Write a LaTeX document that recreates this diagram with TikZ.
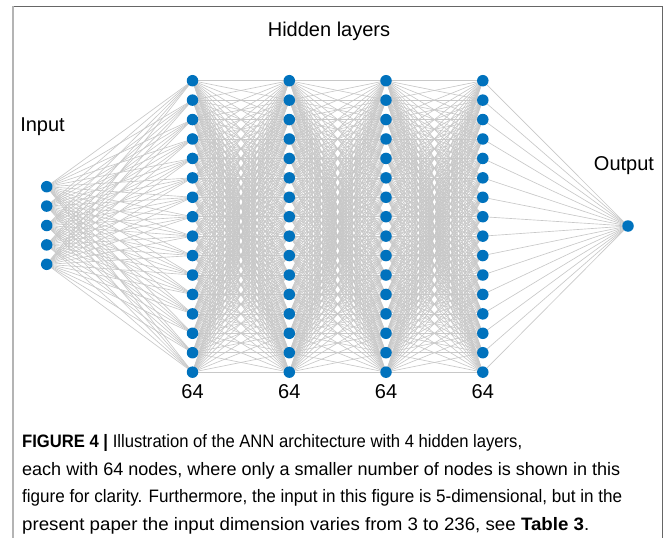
\documentclass[tikz,border=0pt]{standalone}
\usepackage{fontspec}
\setmainfont{Liberation Sans}
\usepackage{graphicx}
\pgfdeclarelayer{bg}
\pgfsetlayers{bg,main}
\definecolor{nodeblue}{HTML}{0072BD}
\definecolor{edgegray}{HTML}{C8C8C8}
\definecolor{frametop}{HTML}{666666}
\definecolor{frameleft}{HTML}{B4B4B4}
\begin{document}
\begin{tikzpicture}[x=1pt,y=-1pt,
  neuron/.style={circle,fill=nodeblue,inner sep=0pt,minimum size=11.5pt},
  conn/.style={draw=edgegray,line width=0.65pt},
  lbl/.style={font=\fontsize{20}{24}\selectfont,inner sep=0pt},
  capline/.style={anchor=base west,inner sep=0pt,font=\fontsize{18}{22}\selectfont}]
\useasboundingbox (0,0) rectangle (666,538);
% frame
\draw[frametop,line width=1.5pt] (12,6.5) -- (662.5,6.5) -- (662.5,538);
\draw[frameleft,line width=2pt] (13,6) -- (13,538);
% input layer
\foreach \n in {1,...,5}
  \node[neuron] (i\n) at (46.7,{186.7+(\n-1)*19.4}) {};
% hidden layers
\foreach \l/\x in {1/192.5,2/289.3,3/386,4/482.8}
  \foreach \n in {1,...,16}
    \node[neuron] (h\l-\n) at (\x,{80.7+(\n-1)*19.43}) {};
% output
\node[neuron] (o) at (628,226) {};
% connections
\begin{pgfonlayer}{bg}
\foreach \a in {1,...,5}
  \foreach \b in {1,...,16}
    \draw[conn] (i\a.center) -- (h1-\b.center);
\foreach \l/\m in {1/2,2/3,3/4}
  \foreach \a in {1,...,16}
    \foreach \b in {1,...,16}
      \draw[conn] (h\l-\a.center) -- (h\m-\b.center);
\foreach \a in {1,...,16}
  \draw[conn] (h4-\a.center) -- (o.center);
\end{pgfonlayer}
% labels
\node[lbl] (thid) at (329,31) {Hidden layers};
\node[lbl] (tin) at (42.5,127) {Input};
\node[lbl] (tout) at (624,166) {Output};
\foreach \l in {1,...,4}
  \node[lbl,anchor=base] (n\l) at (h\l-16.center |- 0,398) {64};
% caption
\node[capline] (c1) at (22,447.5) {\resizebox{500pt}{\height}{\textbf{FIGURE 4 |} Illustration of the ANN architecture with 4 hidden layers,}};
\node[capline] (c2) at (22,475) {\resizebox{598pt}{\height}{each with 64 nodes, where only a smaller number of nodes is shown in this}};
\node[capline] (c3) at (22,502.5) {\resizebox{600pt}{\height}{figure for clarity. Furthermore, the input in this figure is 5-dimensional, but in the}};
\node[capline] (c4) at (22,530) {\resizebox{567pt}{\height}{present paper the input dimension varies from 3 to 236, see \textbf{Table 3}.}};
\end{tikzpicture}
\end{document}
